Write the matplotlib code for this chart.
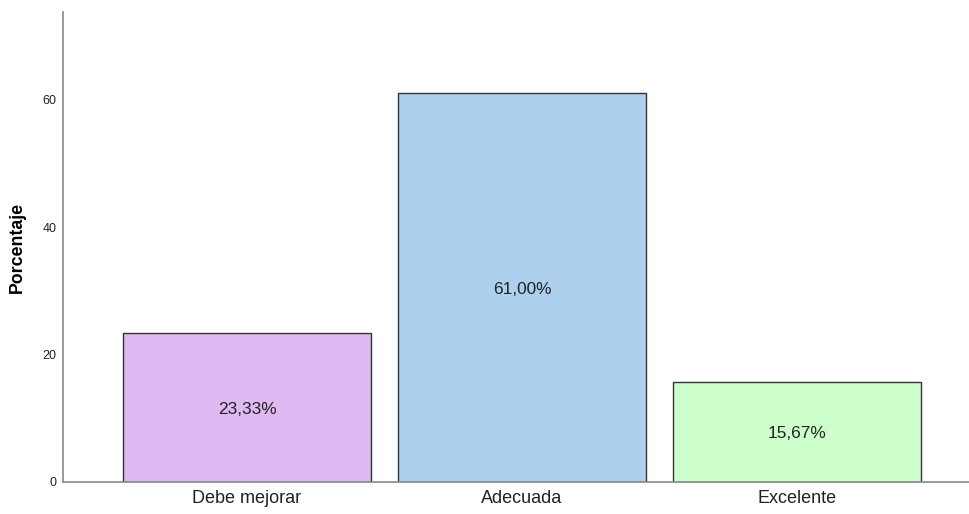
import matplotlib
matplotlib.use("Agg")
import matplotlib.pyplot as plt

plt.rcParams['font.family'] = ['Liberation Sans', 'DejaVu Sans']

categorias = ["Debe mejorar", "Adecuada", "Excelente"]
porcentajes = [23.33, 61.00, 15.67]
colores = ["#DEB9F2", "#ADD0EE", "#CCFFCC"]

fig = plt.figure(figsize=(9.69, 5.14), dpi=100)
ax = fig.add_axes([0.065, 0.0623, 0.935, 0.9144])

x = range(len(categorias))
barras = ax.bar(x, porcentajes, width=0.902, color=colores,
                edgecolor="#333333", linewidth=1.0)

for xi, v in zip(x, porcentajes):
    ax.text(xi, v / 2, f"{v:.2f}%".replace(".", ","), ha="center",
            va="center_baseline", fontsize=12.4, color="#222222")

ax.set_xlim(-0.669, 2.625)
ax.set_ylim(0, 73.8)
ax.set_yticks([0, 20, 40, 60])
ax.set_xticks(list(x))
ax.set_xticklabels(categorias, fontsize=13, color="#222222")
ax.tick_params(axis="y", length=0, labelsize=9, pad=4.5, labelcolor="#222222")
ax.tick_params(axis="x", length=0, pad=6)
ax.set_ylabel("Porcentaje", fontsize=12.8, fontweight="bold", labelpad=12)

for s in ["top", "right"]:
    ax.spines[s].set_visible(False)
for s in ["left", "bottom"]:
    ax.spines[s].set_color("#888888")
    ax.spines[s].set_linewidth(1.2)

fig.savefig("out.png", dpi=100)
